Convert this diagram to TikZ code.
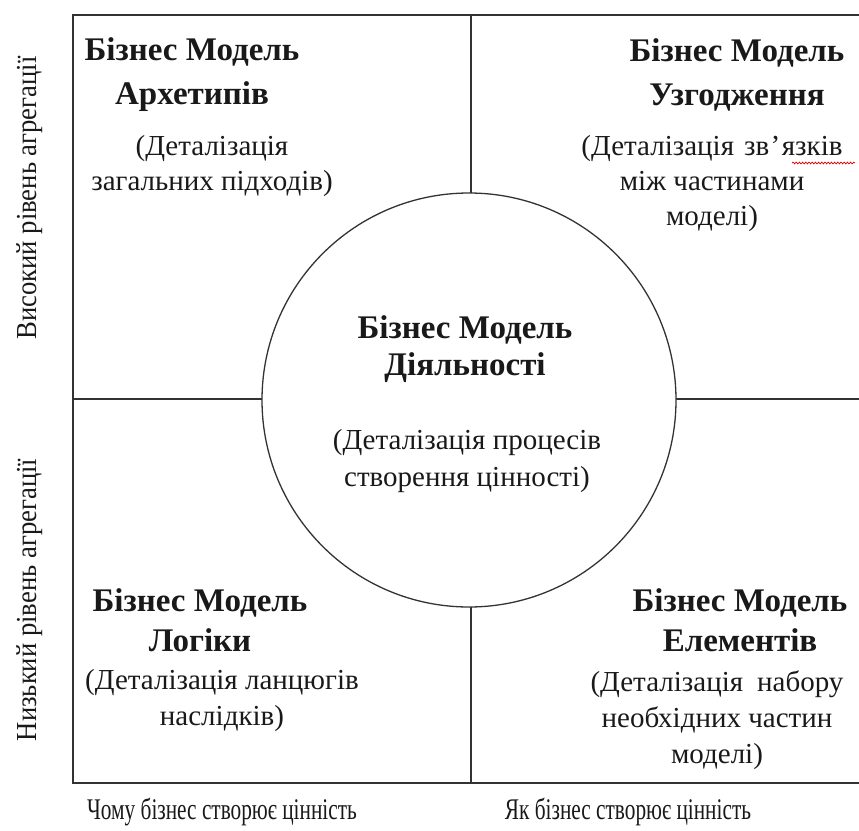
\documentclass[tikz,border=0pt]{standalone}
\usepackage{fontspec}
\setmainfont{Liberation Serif}
\newfontfamily\narrowserif[FakeStretch=0.71]{Liberation Serif}
\newfontfamily\sideserif[FakeStretch=0.92]{Liberation Serif}
\usetikzlibrary{decorations.pathmorphing}
\begin{document}
\begin{tikzpicture}[x=1pt,y=-1pt,
  frameline/.style={line width=1.4pt, draw=black!80},
  titletext/.style={font=\fontsize{33}{#1}\selectfont\bfseries, align=center, inner sep=0pt, text=black!90},
  titletext/.default=44,
  desctext/.style={font=\fontsize{29}{#1}\selectfont, align=center, inner sep=0pt, text=black!90},
  desctext/.default=35,
  axistext/.style={font=\narrowserif\fontsize{30}{34}\selectfont, inner sep=0pt, text=black!90},
  sidetext/.style={font=\sideserif\fontsize{29}{32}\selectfont, inner sep=0pt, text=black!90, rotate=90},
  spellmark/.style={red!85!black, line width=0.7pt, decorate, decoration={snake, amplitude=0.9pt, segment length=3.2pt}}]
\useasboundingbox (0,0) rectangle (859,830);

% quadrant frame (open on the right side)
\draw[frameline] (859,15) -- (73,15) -- (73,783) -- (859,783);
\draw[frameline] (471,15) -- (471,783);
\draw[frameline] (73,399) -- (859,399);

% central circle covering the crossing
\node[circle, minimum size=414pt, inner sep=0pt, fill=white, draw=black!80, line width=1.3pt] (core) at (469,400) {};

% top-left quadrant
\node[titletext] (archTitle) at (192,75) {Бізнес Модель\\Архетипів};
\node[desctext] (archDesc) at (212,166) {(Деталізація\\загальних підходів)};

% top-right quadrant
\node[titletext] (alignTitle) at (737,75) {Бізнес Модель\\Узгодження};
\node[desctext] (alignDesc) at (712,184) {(Деталізація\hspace{10pt}зв\hspace{1.5pt}’\hspace{1.5pt}язків\\між частинами\\моделі)};
\coordinate (wavyStart) at (792,163);
\coordinate (wavyEnd) at (855,163);
\draw[spellmark] (wavyStart) -- (wavyEnd);

% centre
\node[titletext=37] (actTitle) at (465,349) {Бізнес Модель\\Діяльності};
\node[desctext=37] (actDesc) at (467,461) {(Деталізація процесів\\створення цінності)};

% bottom-left quadrant
\node[titletext=40] (logicTitle) at (200,620) {Бізнес Модель\\Логіки};
\node[desctext=36] (logicDesc) at (222,701) {(Деталізація ланцюгів\\наслідків)};

% bottom-right quadrant
\node[titletext=40] (elemTitle) at (740,620) {Бізнес Модель\\Елементів};
\node[desctext=36] (elemDesc) at (717,720) {(Деталізація\hspace{14pt}набору\\необхідних частин\\моделі)};

% axis captions
\node[sidetext] (highAgg) at (30,198) {Високий рівень агрегації};
\node[sidetext] (lowAgg) at (30,600) {Низький рівень агрегації};
\node[axistext] (whyValue) at (222,812) {Чому бізнес створює цінність};
\node[axistext] (howValue) at (628,812) {Як бізнес створює цінність};
\end{tikzpicture}
\end{document}
